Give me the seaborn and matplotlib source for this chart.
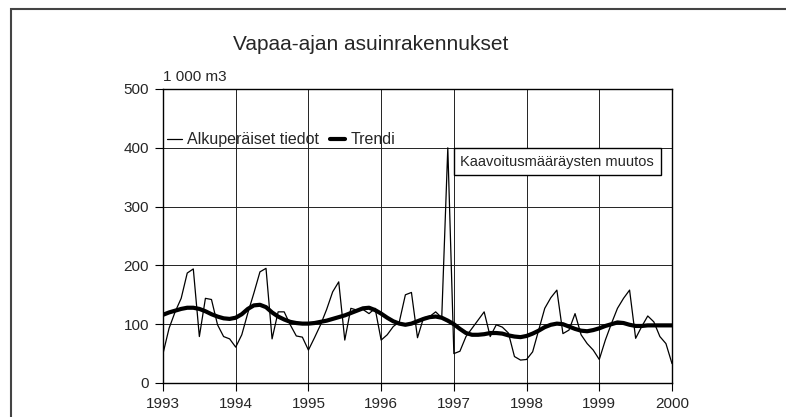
import numpy as np
import pandas as pd
import seaborn as sns
import matplotlib.pyplot as plt
from matplotlib.patches import Rectangle

# monthly values 1/1993 .. 1/2000, 1 000 m3
orig = [50, 93, 121, 144, 187, 194, 79, 144, 142, 99, 79, 75,
        61, 82, 119, 153, 189, 195, 75, 121, 121, 99, 80, 78,
        56, 77, 99, 125, 155, 172, 73, 127, 124, 125, 118, 127,
        73, 82, 96, 104, 150, 154, 77, 111, 113, 121, 111, 400,
        50, 54, 79, 93, 107, 121, 79, 99, 95, 85, 45, 39,
        40, 53, 90, 127, 145, 158, 84, 90, 118, 82, 67, 56,
        40, 73, 101, 127, 144, 158, 76, 96, 114, 104, 79, 67,
        33]
trend = [116, 120, 123, 126, 128, 128, 126, 122, 117, 113, 110, 109,
         111, 117, 126, 132, 133, 129, 120, 113, 108, 104, 102, 101,
         101, 102, 104, 106, 109, 112, 115, 119, 123, 127, 128, 124,
         118, 111, 105, 101, 99, 101, 105, 109, 112, 113, 111, 106,
         100, 92, 85, 82, 82, 83, 85, 85, 84, 81, 79, 78,
         80, 84, 89, 95, 99, 101, 100, 96, 92, 89, 88, 90,
         93, 97, 100, 103, 102, 99, 97, 97, 98, 98, 98, 98,
         98]
year_ticks = list(range(1993, 2001))
y_ticks = [0, 100, 200, 300, 400, 500]

TITLE = "Vapaa-ajan asuinrakennukset"
UNIT = "1 000 m3"
NOTE = "Kaavoitusmääräysten muutos"

df = pd.DataFrame({
    "time": 1993 + np.arange(len(orig)) / 12,
    "orig": orig,
    "trend": trend,
})

sns.set_style("white")
plt.rcParams["font.family"] = ["Liberation Sans", "DejaVu Sans"]

fig = plt.figure(figsize=(7.86, 4.17), dpi=100)
ax = fig.add_axes([163 / 786, 1 - 383 / 417, 509 / 786, 294 / 417])

sns.lineplot(data=df, x="time", y="orig", ax=ax, color="black", lw=0.9,
             label="Alkuperäiset tiedot")
sns.lineplot(data=df, x="time", y="trend", ax=ax, color="black", lw=3,
             label="Trendi")

ax.set_xlim(1993, 2000)
ax.set_ylim(0, 500)
ax.set_xticks(year_ticks)
ax.set_yticks(y_ticks)
ax.set_xlabel("")
ax.set_ylabel("")
ax.grid(True, color="#222222", lw=0.7)
ax.set_axisbelow(True)
ax.tick_params(direction="out", length=6, width=0.8, color="black",
               labelsize=11, pad=4, left=True, bottom=True)
for s in ax.spines.values():
    s.set_color("black")
    s.set_linewidth(1.0)

leg = ax.legend(loc="center left", bbox_to_anchor=(0.008, 0.827), ncol=2,
                frameon=False, handlelength=0.95, handletextpad=0.3,
                columnspacing=0.7, borderpad=0, borderaxespad=0, fontsize=11.5)

ax.text(1997.09, 388, NOTE, fontsize=10.5, va="top", ha="left",
        bbox=dict(boxstyle="square,pad=0.45", fc="white", ec="black", lw=1))

fig.text(163 / 786, 1 - 81 / 417, UNIT, fontsize=11, va="baseline")
fig.text(371 / 786, 1 - 50 / 417, TITLE, fontsize=15, ha="center", va="baseline")

# outer frame of the page
fig.add_artist(Rectangle((11 / 786, -0.05), 1.1, 1.05 - 9 / 417,
                         transform=fig.transFigure, fill=False,
                         ec="#444444", lw=1.5))

fig.savefig("out.png", dpi=100)
